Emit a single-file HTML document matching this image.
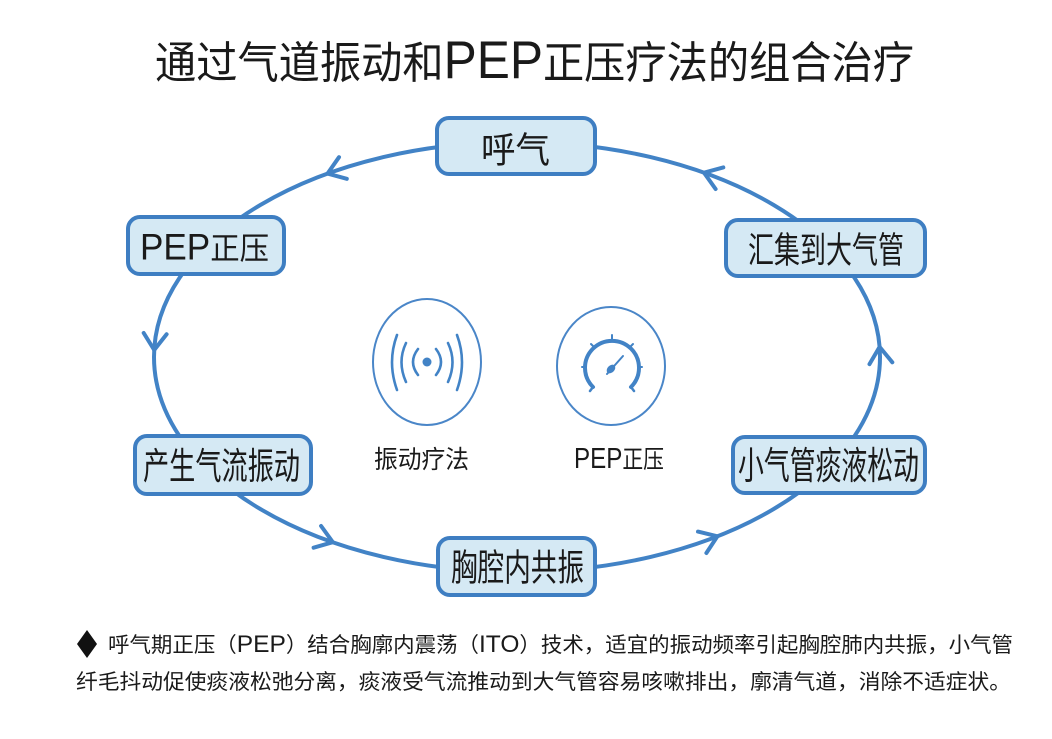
<!DOCTYPE html>
<html>
<head>
<meta charset="utf-8">
<style>
html,body{margin:0;padding:0;background:#ffffff;}
svg{display:block;}
text{font-family:"Liberation Sans","Noto Sans CJK SC",sans-serif;fill:#1a1a1a;}
</style>
</head>
<body>
<svg width="1052" height="739" viewBox="0 0 1052 739" xmlns="http://www.w3.org/2000/svg">
  <rect x="0" y="0" width="1052" height="739" fill="#ffffff"/>

  <!-- Title -->
  <text x="155" y="78" font-size="44" textLength="759" lengthAdjust="spacingAndGlyphs">通过气道振动和<tspan font-size="53">PEP</tspan>正压疗法的组合治疗</text>

  <!-- Loop ellipse -->
  <ellipse cx="517" cy="357" rx="363" ry="215" fill="none" stroke="#4283c6" stroke-width="4"/>

  <!-- Arrowheads (open chevrons) -->
  <g fill="none" stroke="#4283c6" stroke-width="4" stroke-linecap="round" stroke-linejoin="round">
    <polyline points="346.8,178.8 327.5,173.6 339,157.2"/>
    <polyline points="166.6,334.3 154.2,350 143.7,333"/>
    <polyline points="321.1,526 332.8,542.2 313.6,547.7"/>
    <polyline points="698,531.6 717.4,536.3 706.4,553"/>
    <polyline points="869.5,364.1 879.6,346.9 892.3,362.3"/>
    <polyline points="715.6,189 704,172.7 723.3,167.4"/>
  </g>

  <!-- Node boxes -->
  <g fill="#d5e9f4" stroke="#3e7ec2" stroke-width="4">
    <rect x="437" y="118" width="158" height="56" rx="12" ry="12"/>
    <rect x="128" y="217" width="156" height="57" rx="12" ry="12"/>
    <rect x="726" y="220" width="199" height="56" rx="12" ry="12"/>
    <rect x="733" y="437" width="192" height="56" rx="12" ry="12"/>
    <rect x="135" y="436" width="176" height="58" rx="12" ry="12"/>
    <rect x="438" y="538" width="157" height="57" rx="12" ry="12"/>
  </g>

  <!-- Node labels -->
  <text x="481" y="162.5" font-size="36" textLength="69" lengthAdjust="spacingAndGlyphs">呼气</text>
  <text x="140" y="259.5" font-size="31" textLength="129" lengthAdjust="spacingAndGlyphs"><tspan font-size="37">PEP</tspan>正压</text>
  <text x="748" y="262.5" font-size="36" textLength="156" lengthAdjust="spacingAndGlyphs">汇集到大气管</text>
  <text x="738" y="479" font-size="38" textLength="181" lengthAdjust="spacingAndGlyphs">小气管痰液松动</text>
  <text x="143" y="479" font-size="37" textLength="157" lengthAdjust="spacingAndGlyphs">产生气流振动</text>
  <text x="451" y="580.5" font-size="37" textLength="133" lengthAdjust="spacingAndGlyphs">胸腔内共振</text>

  <!-- Center icons -->
  <ellipse cx="427" cy="362" rx="54" ry="63" fill="none" stroke="#4a86c8" stroke-width="2"/>
  <ellipse cx="611" cy="366" rx="54" ry="59" fill="none" stroke="#4a86c8" stroke-width="2"/>

  <!-- Vibration waves -->
  <g fill="none" stroke="#4283c6" stroke-width="2.6" stroke-linecap="round">
    <path d="M418,349 Q408,362 418,375"/>
    <path d="M406,343 Q397,362 406,382"/>
    <path d="M397,335 Q387,362 397,390"/>
    <path d="M436,349 Q446,362 436,375"/>
    <path d="M448,343 Q457,362 448,382"/>
    <path d="M457,335 Q467,362 457,390"/>
  </g>
  <circle cx="427" cy="362" r="4.5" fill="#4283c6"/>

  <!-- Gauge -->
  <g fill="none" stroke="#4283c6" stroke-linecap="round">
    <path d="M593,387 A27 27 0 1 1 631,387" stroke-width="4"/>
    <line x1="593" y1="387" x2="590" y2="391" stroke-width="2.5"/>
    <line x1="631" y1="387" x2="634" y2="391" stroke-width="2.5"/>
    <line x1="612" y1="339" x2="612" y2="335" stroke-width="2"/>
    <line x1="594" y1="347" x2="591" y2="344" stroke-width="2"/>
    <line x1="630" y1="347" x2="633" y2="344" stroke-width="2"/>
    <line x1="585" y1="367" x2="582" y2="367" stroke-width="2"/>
    <line x1="639" y1="367" x2="642" y2="367" stroke-width="2"/>
    <line x1="607" y1="374" x2="623" y2="356" stroke-width="2"/>
  </g>
  <ellipse cx="611" cy="369" rx="3.5" ry="5" transform="rotate(45 611 369)" fill="#4283c6"/>

  <!-- Center labels -->
  <text x="374" y="468" font-size="25" textLength="95" lengthAdjust="spacingAndGlyphs">振动疗法</text>
  <text x="574" y="468" font-size="25" textLength="90" lengthAdjust="spacingAndGlyphs"><tspan font-size="29">PEP</tspan>正压</text>

  <!-- Bottom description -->
  <polygon points="87,630 97,644 87,658 77,644" fill="#111111"/>
  <text x="108" y="652" font-size="21" textLength="905" lengthAdjust="spacingAndGlyphs">呼气期正压（<tspan font-size="24">PEP</tspan>）结合胸廓内震荡（<tspan font-size="24">ITO</tspan>）技术，适宜的振动频率引起胸腔肺内共振，小气管</text>
  <text x="76" y="689" font-size="21" textLength="935" lengthAdjust="spacingAndGlyphs">纤毛抖动促使痰液松弛分离，痰液受气流推动到大气管容易咳嗽排出，廓清气道，消除不适症状。</text>
</svg>
</body>
</html>
